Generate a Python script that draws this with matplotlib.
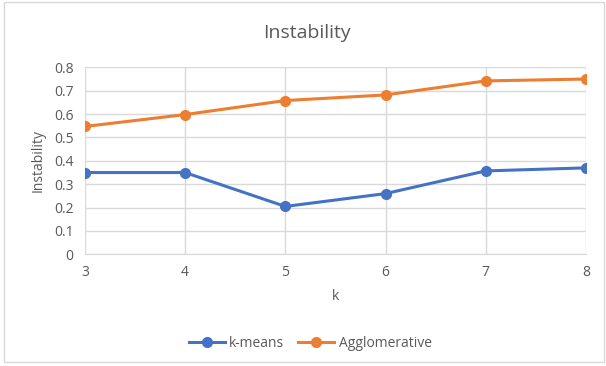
import matplotlib.pyplot as plt
from matplotlib.patches import Rectangle

# data
k = [3, 4, 5, 6, 7, 8]
kmeans = [0.35, 0.35, 0.205, 0.26, 0.357, 0.37]
agglom = [0.547, 0.598, 0.658, 0.682, 0.742, 0.75]
yticks = [0, 0.1, 0.2, 0.3, 0.4, 0.5, 0.6, 0.7, 0.8]
ylabels = ["0", "0.1", "0.2", "0.3", "0.4", "0.5", "0.6", "0.7", "0.8"]

grey = "#595959"
plt.rcParams["font.family"] = ["Open Sans", "DejaVu Sans"]

fig = plt.figure(figsize=(6.06, 3.66), dpi=100)
ax = fig.add_axes([0.140, 0.305, 0.827, 0.511])

ax.plot(k, kmeans, color="#4472C4", lw=2.2, marker="o", ms=7, label="k-means")
ax.plot(k, agglom, color="#ED7D31", lw=2.2, marker="o", ms=7, label="Agglomerative")

ax.set_xlim(3, 8)
ax.set_ylim(0, 0.8)
ax.set_yticks(yticks)
ax.set_yticklabels(ylabels)
ax.set_xticks(k)
ax.grid(True, color="#d9d9d9", lw=1)
ax.set_axisbelow(True)
for s in ["top", "right", "left"]:
    ax.spines[s].set_visible(False)
ax.spines["bottom"].set_color("#d9d9d9")
ax.tick_params(length=0, colors=grey, labelsize=10, pad=8)

fig.text(0.507, 0.91, "Instability", color=grey, fontsize=14, ha="center", va="center")
ax.set_xlabel("k", color=grey, fontsize=10, labelpad=6)
ax.set_ylabel("Instability", color=grey, fontsize=10, labelpad=6)

leg = fig.legend(loc="center", bbox_to_anchor=(0.512, 0.062), ncol=2,
                 frameon=False, fontsize=10, handlelength=2.6, handletextpad=0.3,
                 columnspacing=1.0)
for t in leg.get_texts():
    t.set_color(grey)

fig.patches.append(Rectangle((0.006, 0.01), 0.99, 0.985, transform=fig.transFigure,
                             fill=False, edgecolor="#d9d9d9", lw=1))

plt.savefig("out.png", dpi=100)
